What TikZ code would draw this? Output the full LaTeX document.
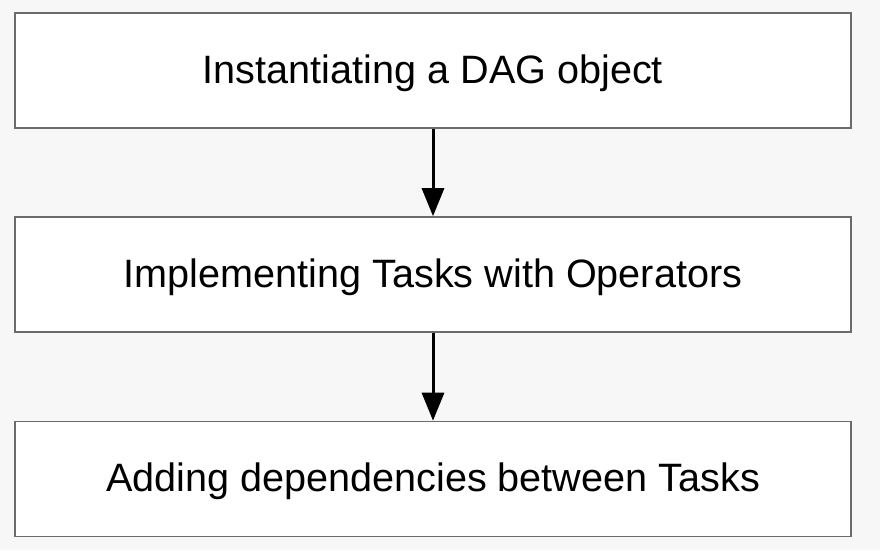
\documentclass[tikz,border=0pt]{standalone}
\usepackage{fontspec}
\setmainfont{Liberation Sans}
\usetikzlibrary{arrows.meta}
\begin{document}
\begin{tikzpicture}[x=1pt,y=-1pt,
  stepbox/.style={draw=black!58,line width=1.6pt,fill=white,minimum width=836pt,minimum height=115pt,inner sep=0pt,text height=35pt,text depth=10pt,font=\fontsize{39.6}{46}\selectfont},
  flow/.style={line width=3pt,-{Triangle[width=22pt,length=28pt]}}]
\fill[white!97!black] (0,0) rectangle (880,550);
\useasboundingbox (0,0) rectangle (880,550);
\node[stepbox] (a) at (433,70.5) {Instantiating a DAG object};
\node[stepbox] (b) at (433,274.5) {Implementing Tasks with Operators};
\node[stepbox] (c) at (433,479) {Adding dependencies between Tasks};
\draw[flow] (a) -- (b);
\draw[flow] (b) -- (c);
\end{tikzpicture}
\end{document}
